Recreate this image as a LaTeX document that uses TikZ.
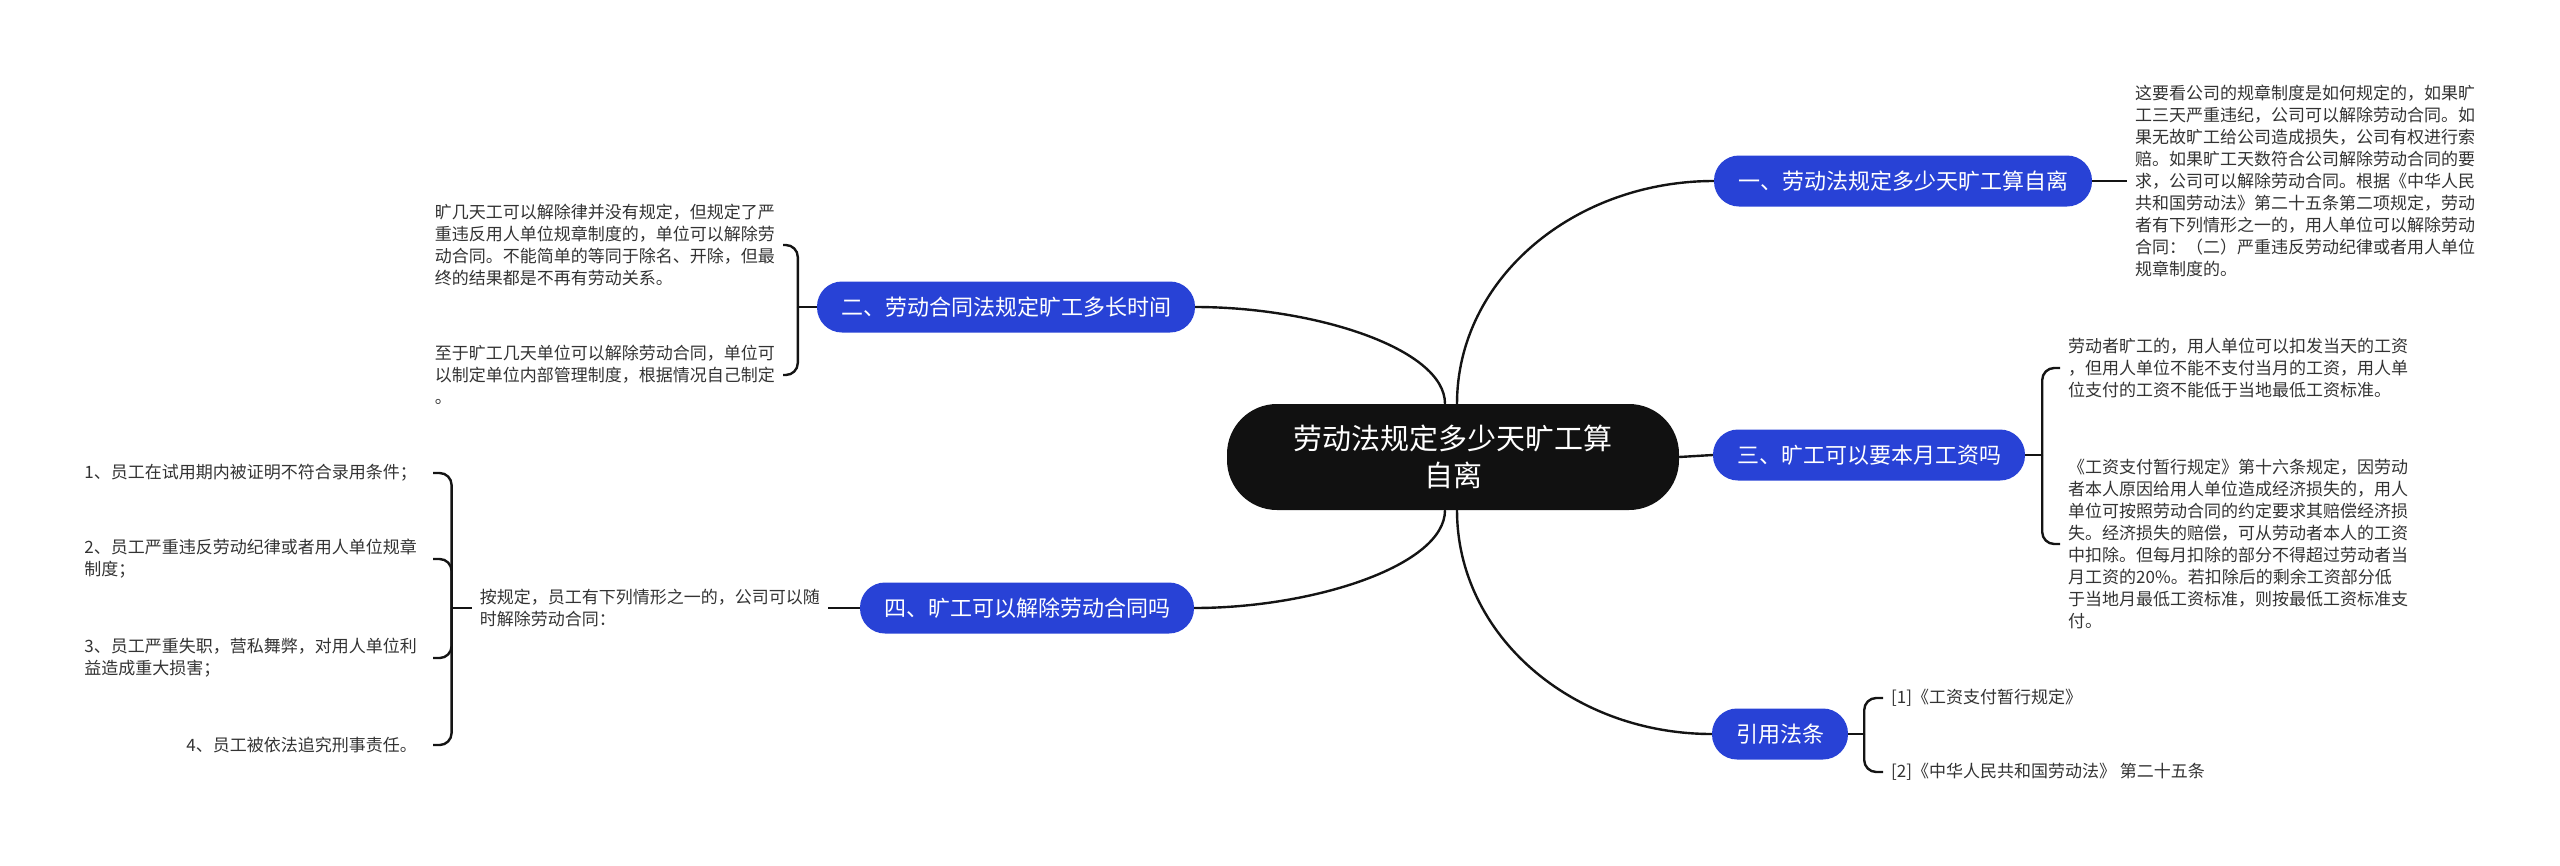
\documentclass[tikz,border=0pt]{standalone}
\usepackage{fontspec}
\setmainfont{Noto Sans CJK SC}
\usetikzlibrary{calc}
\definecolor{rootcolor}{RGB}{17,17,17}
\definecolor{branchcolor}{RGB}{40,66,214}
\definecolor{leafcolor}{RGB}{51,51,51}
\definecolor{linkcolor}{RGB}{20,20,20}

\begin{document}
\begin{tikzpicture}[x=1pt, y=-1pt,
  root/.style={draw=none, fill=rootcolor, text=white, rounded corners=50pt,
    minimum width=452pt, minimum height=106pt, align=center,
    font=\fontsize{29}{37}\selectfont},
  branch/.style={draw=none, fill=branchcolor, text=white, rounded corners=25pt,
    minimum height=51pt, inner xsep=24pt, font=\fontsize{22}{26}\selectfont},
  leaf/.style={text=leafcolor, align=left, inner ysep=0pt, inner xsep=8pt,
    font=\fontsize{17}{22}\selectfont},
  itemtext/.style={leaf, inner xsep=16pt, anchor=east},
  link/.style={draw=linkcolor, line width=2.4pt},
  fork/.style={link, rounded corners=12pt}]

  \useasboundingbox (0,0) rectangle (2560,865);

  % ---- centre ----
  \node[root] (root) at (1453,457) {劳动法规定多少天旷工算\\自离};

  % ---- branches ----
  \node[branch] (b1) at (1903,181) {一、劳动法规定多少天旷工算自离};
  \node[branch] (b2) at (1006,307) {二、劳动合同法规定旷工多长时间};
  \node[branch] (b3) at (1869,455) {三、旷工可以要本月工资吗};
  \node[branch] (b4) at (1027,608) {四、旷工可以解除劳动合同吗};
  \node[branch] (b5) at (1780,734) {引用法条};

  \draw[link] ([xshift=4pt]root.north) .. controls +(0,-125)
    and ($(b1.west)+(-140,0)$) .. (b1.west);
  \draw[link] ([xshift=-8pt]root.north) .. controls +(0,-55)
    and ($(b2.east)+(120,0)$) .. (b2.east);
  \draw[link] (root.east) -- (b3.west);
  \draw[link] ([xshift=-8pt]root.south) .. controls +(0,55)
    and ($(b4.east)+(120,0)$) .. (b4.east);
  \draw[link] ([xshift=4pt]root.south) .. controls +(0,125)
    and ($(b5.west)+(-140,0)$) .. (b5.west);

  % ---- branch 1 ----
  \node[leaf, anchor=west] (l1) at (2127,181) {%
    这要看公司的规章制度是如何规定的，如果旷\\
    工三天严重违纪，公司可以解除劳动合同。如\\
    果无故旷工给公司造成损失，公司有权进行索\\
    赔。如果旷工天数符合公司解除劳动合同的要\\
    求，公司可以解除劳动合同。根据《中华人民\\
    共和国劳动法》第二十五条第二项规定，劳动\\
    者有下列情形之一的，用人单位可以解除劳动\\
    合同：（二）严重违反劳动纪律或者用人单位\\
    规章制度的。};
  \draw[link] (b1.east) -- (l1.west);

  % ---- branch 2 ----
  \node[leaf, anchor=east] (l2a) at (783,245) {%
    旷几天工可以解除律并没有规定，但规定了严\\
    重违反用人单位规章制度的，单位可以解除劳\\
    动合同。不能简单的等同于除名、开除，但最\\
    终的结果都是不再有劳动关系。};
  \node[leaf, anchor=east] (l2b) at (783,375) {%
    至于旷工几天单位可以解除劳动合同，单位可\\
    以制定单位内部管理制度，根据情况自己制定\\
    。};
  \coordinate (f2) at ($(b2.west)+(-19,0)$);
  \draw[link] (b2.west) -- (f2);
  \draw[fork] (f2) |- (l2a.east);
  \draw[fork] (f2) |- (l2b.east);

  % ---- branch 3 ----
  \node[leaf, anchor=west] (l3a) at (2060,368) {%
    劳动者旷工的，用人单位可以扣发当天的工资\\
    ，但用人单位不能不支付当月的工资，用人单\\
    位支付的工资不能低于当地最低工资标准。};
  \node[leaf, anchor=west] (l3b) at (2060,544) {%
    《工资支付暂行规定》第十六条规定，因劳动\\
    者本人原因给用人单位造成经济损失的，用人\\
    单位可按照劳动合同的约定要求其赔偿经济损\\
    失。经济损失的赔偿，可从劳动者本人的工资\\
    中扣除。但每月扣除的部分不得超过劳动者当\\
    月工资的20\%。若扣除后的剩余工资部分低\\
    于当地月最低工资标准，则按最低工资标准支\\
    付。};
  \coordinate (f3) at ($(b3.east)+(17,0)$);
  \draw[link] (b3.east) -- (f3);
  \draw[fork] (f3) |- (l3a.west);
  \draw[fork] (f3) |- (l3b.west);

  % ---- branch 4 ----
  \node[leaf, anchor=east] (l4) at (828,608) {%
    按规定，员工有下列情形之一的，公司可以随\\
    时解除劳动合同：};
  \draw[link] (b4.west) -- (l4.east);

  \node[itemtext] (i1) at (433,473) {1、员工在试用期内被证明不符合录用条件；};
  \node[itemtext] (i2) at (433,559) {2、员工严重违反劳动纪律或者用人单位规章\\制度；};
  \node[itemtext] (i3) at (433,658) {3、员工严重失职，营私舞弊，对用人单位利\\益造成重大损害；};
  \node[itemtext] (i4) at (433,745) {4、员工被依法追究刑事责任。};
  \coordinate (f4) at ($(l4.west)+(-20,0)$);
  \draw[link] (l4.west) -- (f4);
  \foreach \k in {i1,i2,i3,i4}
    \draw[fork] (f4) |- (\k.east);

  % ---- branch 5 ----
  \node[leaf, anchor=west] (r1) at (1883,698) {[1]《工资支付暂行规定》};
  \node[leaf, anchor=west] (r2) at (1883,772) {[2]《中华人民共和国劳动法》 第二十五条};
  \coordinate (f5) at ($(b5.east)+(16,0)$);
  \draw[link] (b5.east) -- (f5);
  \draw[fork] (f5) |- (r1.west);
  \draw[fork] (f5) |- (r2.west);

\end{tikzpicture}
\end{document}
